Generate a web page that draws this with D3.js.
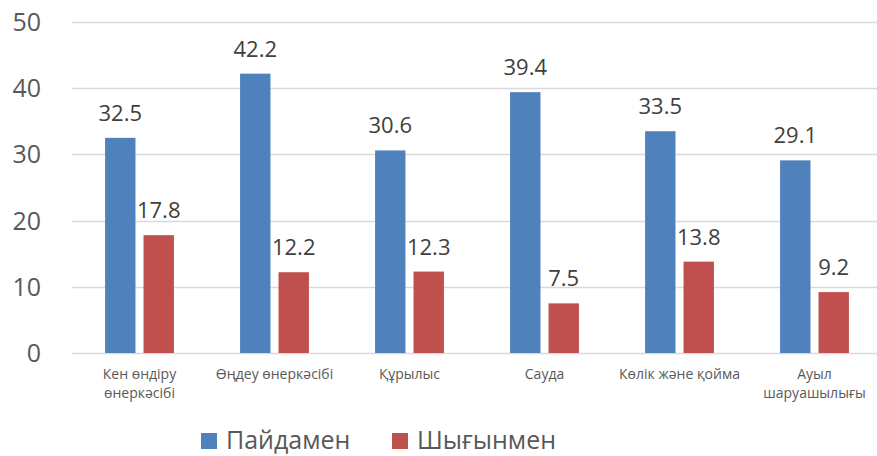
<!DOCTYPE html>
<html>
<head>
<meta charset="utf-8">
<script src="https://cdn.jsdelivr.net/npm/d3@7"></script>
<style>
  body { margin: 0; background: #fff; }
  text { font-family: "Open Sans", "DejaVu Sans", sans-serif; fill: #595959; }
</style>
</head>
<body>
<div id="chart"></div>
<script>
const categories = ['Кен өндіру өнеркәсібі', 'Өңдеу өнеркәсібі', 'Құрылыс', 'Сауда', 'Көлік және қойма', 'Ауыл шаруашылығы'];
const categoryLabels = [['Кен өндіру', 'өнеркәсібі'], ['Өңдеу өнеркәсібі'], ['Құрылыс'], ['Сауда'], ['Көлік және қойма'], ['Ауыл', 'шаруашылығы']];
const seriesNames = ['Пайдамен', 'Шығынмен'];
const profit = [32.5, 42.2, 30.6, 39.4, 33.5, 29.1];
const loss = [17.8, 12.2, 12.3, 7.5, 13.8, 9.2];
const yTicks = [0, 10, 20, 30, 40, 50];
const colors = ['#4f81bd', '#c0504d'];

const width = 877, height = 456;
const series = [profit, loss];

const svg = d3.select('#chart')
  .append('svg')
  .attr('width', width)
  .attr('height', height);

const x0 = d3.scaleBand()
  .domain(categories)
  .range([72, 882])
  .paddingInner(0.49)
  .paddingOuter(0.245);

const x1 = d3.scaleBand()
  .domain(seriesNames)
  .range([0, x0.bandwidth()])
  .paddingInner(0.21);

const y = d3.scaleLinear()
  .domain([0, 50])
  .range([353, 22]);

// gridlines
svg.append('g')
  .selectAll('line')
  .data(yTicks)
  .enter().append('line')
    .attr('x1', 72)
    .attr('x2', width)
    .attr('y1', d => Math.round(y(d)) + 0.5)
    .attr('y2', d => Math.round(y(d)) + 0.5)
    .attr('stroke', '#d9d9d9')
    .attr('stroke-width', 1.5);

// y axis labels
svg.append('g')
  .selectAll('text')
  .data(yTicks)
  .enter().append('text')
    .attr('x', 41)
    .attr('y', d => y(d))
    .attr('dy', '0.36em')
    .attr('text-anchor', 'end')
    .style('font-size', '25px')
    .text(d => d);

// bars
const groups = svg.append('g')
  .selectAll('g')
  .data(categories)
  .enter().append('g')
    .attr('transform', d => `translate(${x0(d)},0)`);

groups.selectAll('rect')
  .data((d, i) => seriesNames.map((s, j) => ({s, v: series[j][i], j})))
  .enter().append('rect')
    .attr('x', d => x1(d.s))
    .attr('width', x1.bandwidth())
    .attr('y', d => y(d.v))
    .attr('height', d => y(0) - y(d.v))
    .attr('fill', d => colors[d.j]);

groups.selectAll('text.val')
  .data((d, i) => seriesNames.map((s, j) => ({s, v: series[j][i], j})))
  .enter().append('text')
    .attr('class', 'val')
    .attr('x', d => x1(d.s) + x1.bandwidth() / 2)
    .attr('y', d => y(d.v) - 17)
    .attr('text-anchor', 'middle')
    .style('font-size', '22px')
    .style('fill', '#404040')
    .text(d => d.v.toFixed(1));

// category labels
const labels = svg.append('g')
  .selectAll('text')
  .data(categories)
  .enter().append('text')
    .attr('x', d => x0(d) + x0.bandwidth() / 2)
    .attr('y', 379)
    .attr('text-anchor', 'middle')
    .style('font-size', '14px');

labels.selectAll('tspan')
  .data((d, i) => categoryLabels[i])
  .enter().append('tspan')
    .attr('x', function () { return d3.select(this.parentNode).attr('x'); })
    .attr('dy', (d, i) => i === 0 ? 0 : 19)
    .text(d => d);

// legend
const legendX = [201, 392];
const legend = svg.append('g')
  .selectAll('g')
  .data(seriesNames)
  .enter().append('g')
    .attr('transform', (d, i) => `translate(${legendX[i]},433)`);

legend.append('rect')
  .attr('width', 16)
  .attr('height', 16)
  .attr('fill', (d, i) => colors[i]);

legend.append('text')
  .attr('x', 25)
  .attr('y', 16)
  .style('font-size', '25px')
  .text(d => d);
</script>
</body>
</html>
